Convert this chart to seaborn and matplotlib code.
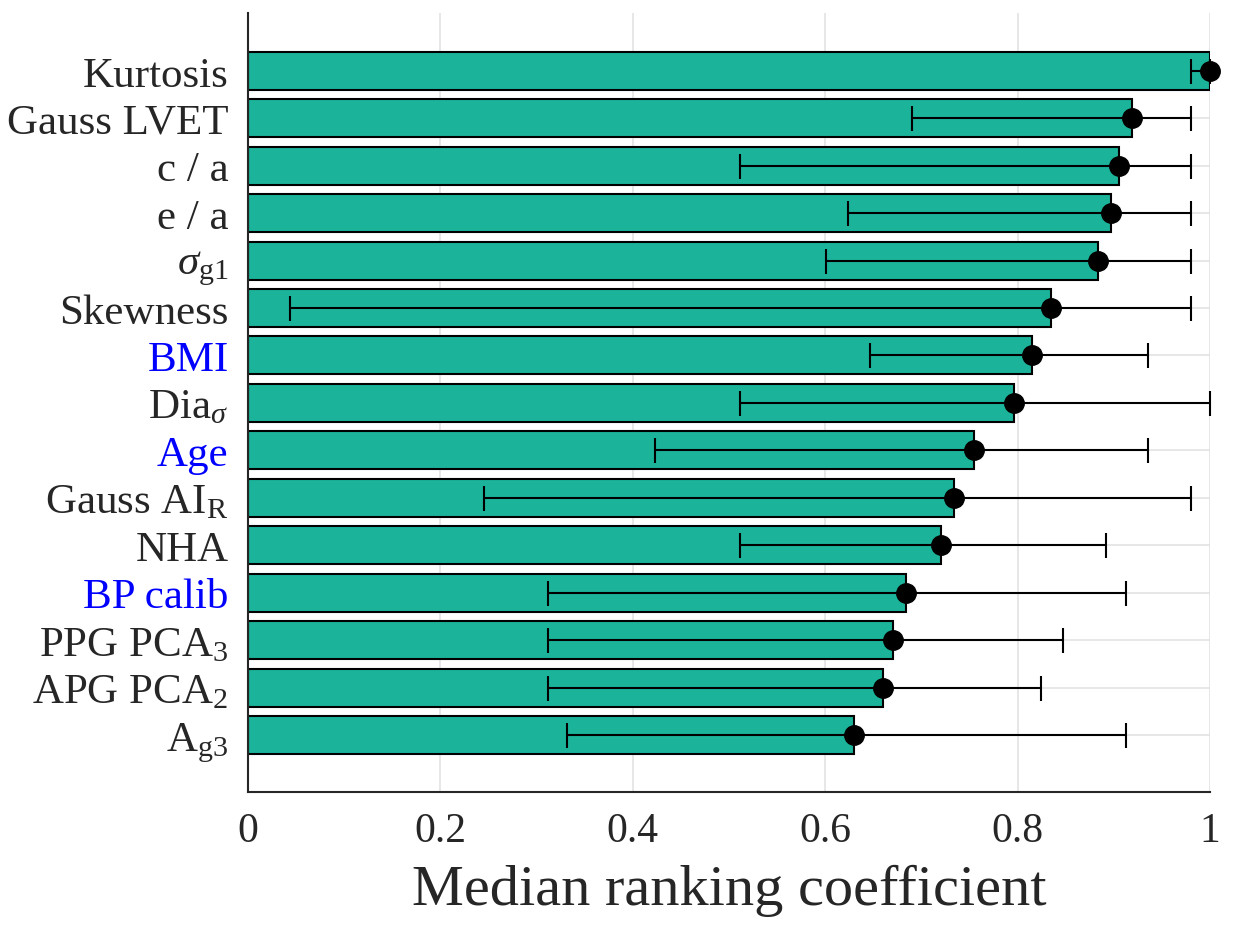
import matplotlib
matplotlib.use('Agg')
import matplotlib.pyplot as plt
import numpy as np
import pandas as pd
import seaborn as sns

# feature names, top to bottom
features = ['Kurtosis', 'Gauss LVET', 'c / a', 'e / a', r'$\sigma_{\mathrm{g1}}$', 'Skewness', 'BMI',
            r'Dia$_{\sigma}$', 'Age', r'Gauss AI$_{\mathrm{R}}$', 'NHA', 'BP calib',
            r'PPG PCA$_{\mathrm{3}}$', r'APG PCA$_{\mathrm{2}}$', r'A$_{\mathrm{g3}}$']
median = [1.0, 0.919, 0.905, 0.897, 0.884, 0.835, 0.815, 0.796, 0.755, 0.734, 0.720,
          0.684, 0.670, 0.660, 0.630]
lower = [0.980, 0.690, 0.511, 0.624, 0.601, 0.044, 0.647, 0.511, 0.423, 0.245, 0.511,
         0.312, 0.312, 0.312, 0.332]
upper = [1.0, 0.980, 0.980, 0.980, 0.980, 0.980, 0.936, 1.0, 0.936, 0.980, 0.892,
         0.913, 0.847, 0.824, 0.913]
blue_labels = ['BMI', 'Age', 'BP calib']
x_ticks = [0, 0.2, 0.4, 0.6, 0.8, 1]
x_tick_labels = ['0', '0.2', '0.4', '0.6', '0.8', '1']

sns.set_style("whitegrid")
plt.rcParams['font.family'] = ['Liberation Serif', 'DejaVu Serif']
plt.rcParams['mathtext.fontset'] = 'custom'
plt.rcParams['mathtext.rm'] = 'Liberation Serif'
plt.rcParams['mathtext.it'] = 'Liberation Serif:italic'

df = pd.DataFrame({'feature': features, 'median': median, 'lower': lower, 'upper': upper})

fig = plt.figure(figsize=(12.45, 9.28), dpi=100)
ax = fig.add_axes([0.1992, 0.1455, 0.7727, 0.8395])

sns.barplot(data=df, x='median', y='feature', order=features, color='#1bb39a',
            saturation=1, edgecolor='black', linewidth=1.5, width=0.8, ax=ax, zorder=2)

pos = np.arange(len(features))
err = [df['median'] - df['lower'], df['upper'] - df['median']]
eb = ax.errorbar(df['median'], pos, xerr=err, fmt='o', color='black', ecolor='black',
                 elinewidth=1.5, capsize=9, capthick=1.5, markersize=14, zorder=3)
for artist in eb.get_children():
    artist.set_clip_on(False)

ax.set_xlim(0, 1.0)
ax.set_ylim(len(features) - 1 + 1.2, -1.22)
ax.set_xticks(x_ticks)
ax.set_xticklabels(x_tick_labels)
ax.tick_params(axis='x', labelsize=30, colors='#262626', direction='in', length=6,
               width=1.2, pad=14)
ax.tick_params(axis='y', labelsize=31, length=0, pad=14)
for lbl in ax.get_yticklabels():
    lbl.set_color('#0000ff' if lbl.get_text() in blue_labels else '#262626')

ax.set_xlabel('Median ranking coefficient', fontsize=42, color='#262626', labelpad=10)
ax.set_ylabel('')
ax.grid(True, color='#e3e3e3', linewidth=1.2, zorder=0)
ax.set_axisbelow(True)
for side in ['top', 'right']:
    ax.spines[side].set_visible(False)
for side in ['left', 'bottom']:
    ax.spines[side].set_color('#262626')
    ax.spines[side].set_linewidth(1.5)

plt.savefig('out.png', dpi=100)
plt.close()
